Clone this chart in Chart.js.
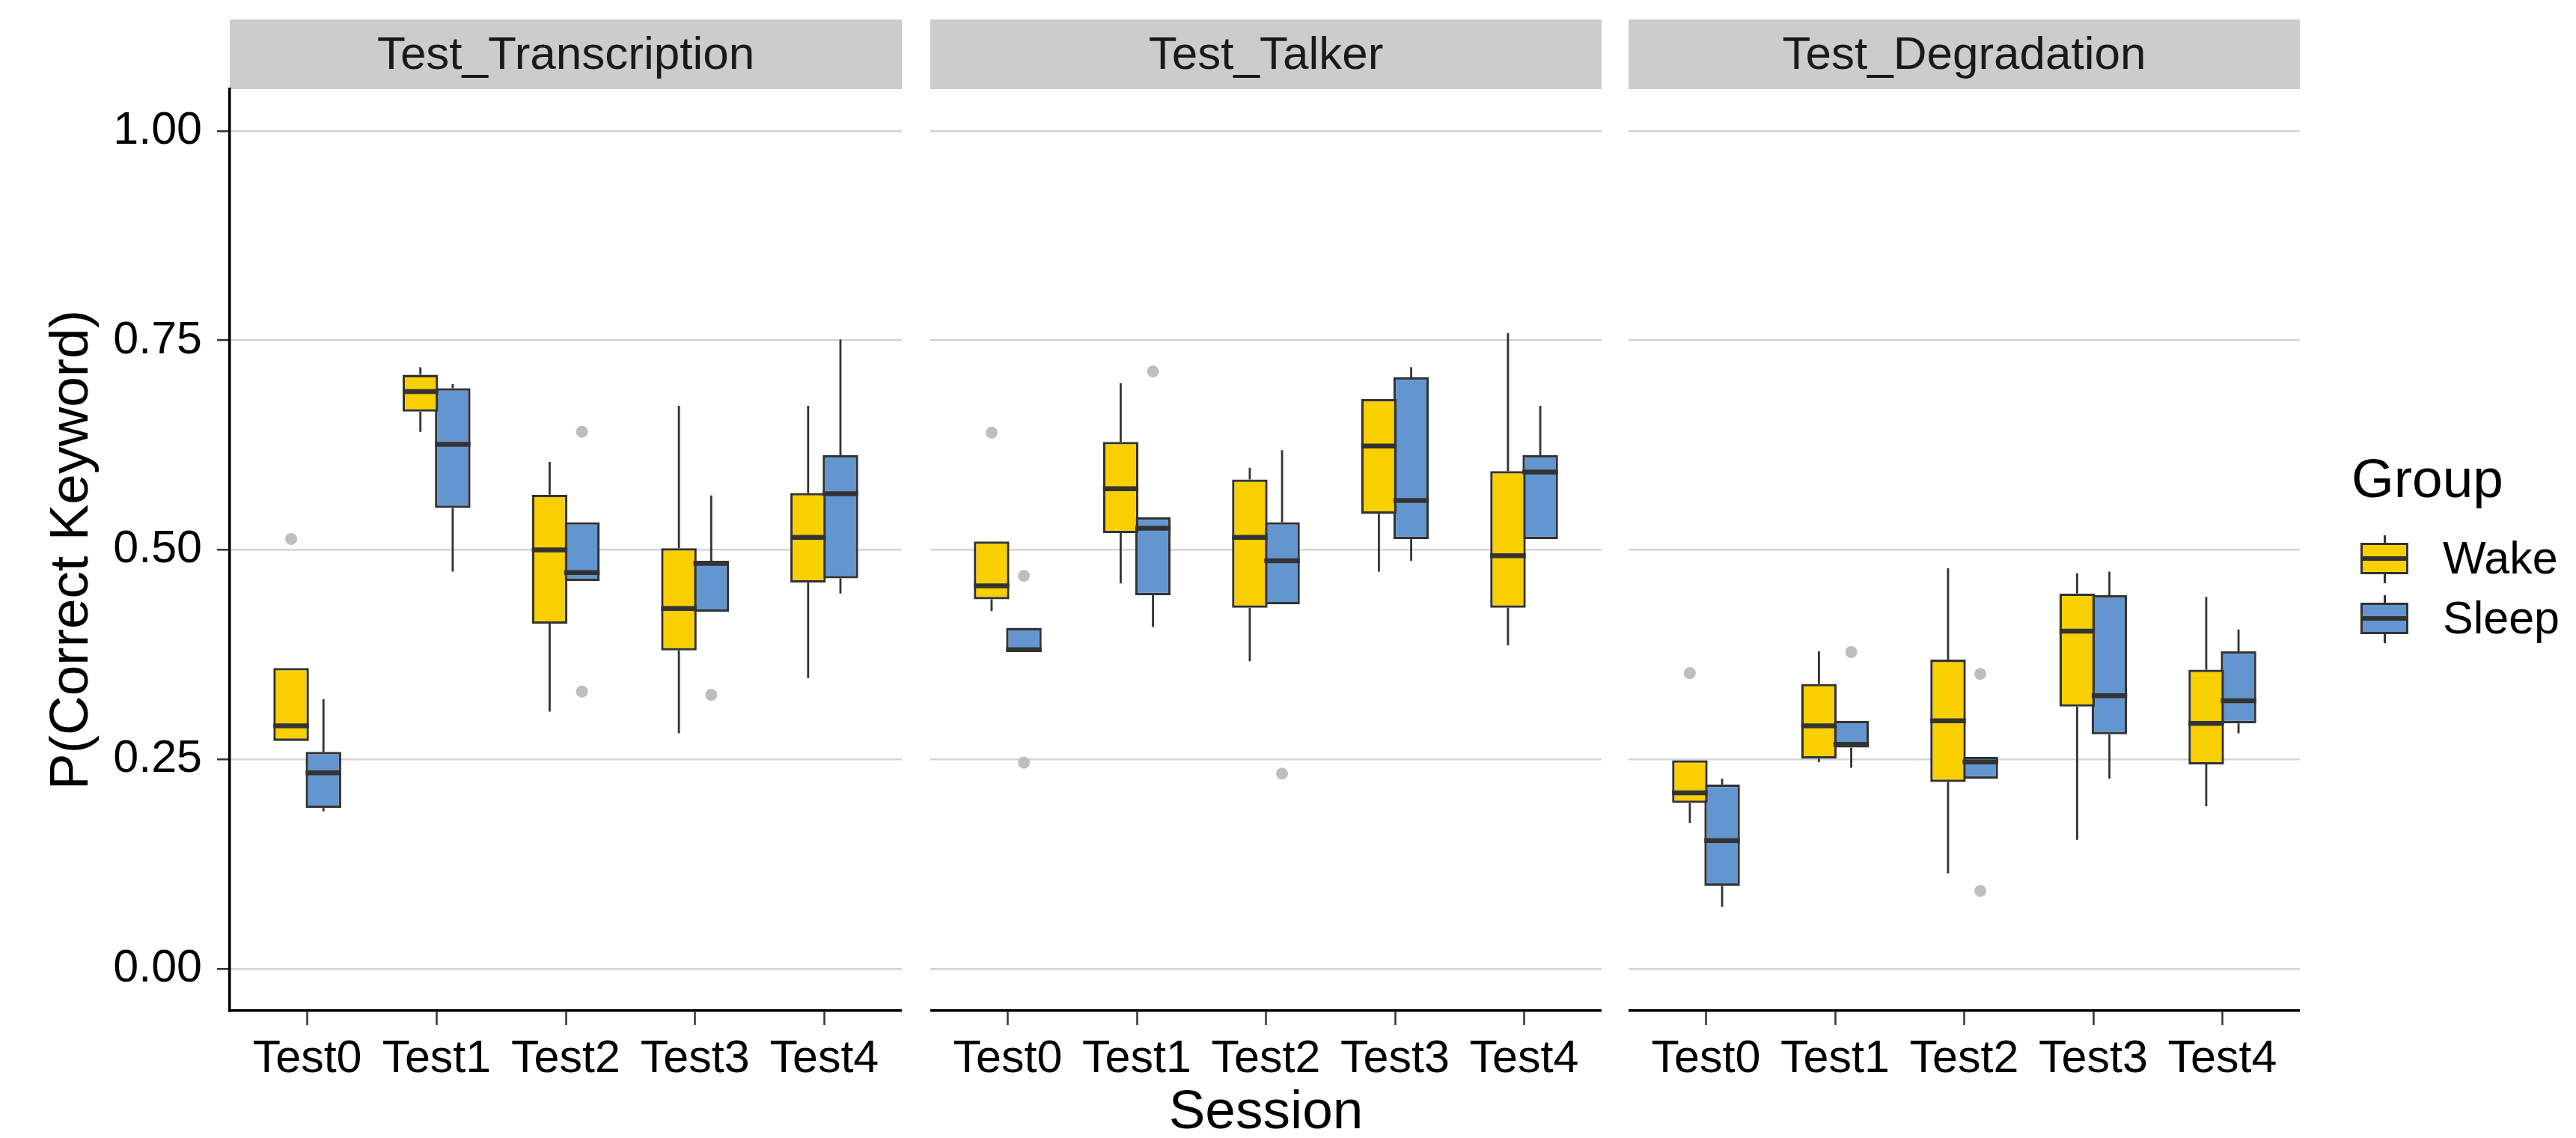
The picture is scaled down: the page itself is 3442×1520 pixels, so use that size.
<!DOCTYPE html>
<html>
<head>
<meta charset="utf-8">
<title>P(Correct Keyword) by Session</title>
<script src="https://cdn.jsdelivr.net/npm/chart.js@4.4.1/dist/chart.umd.min.js"></script>
<style>
  body { margin: 0; background: #fff; font-family: 'Liberation Sans', Arial, sans-serif; }
  #page { position: relative; width: 3442px; height: 1520px; overflow: hidden; }
  .panel { position: absolute; top: 0; height: 1520px; }
  .lg-title { position: absolute; left: 3142px; top: 602px; font-size: 73px; line-height: 73px; color: #000; }
  .lg-key { position: absolute; left: 3154px; width: 64px; height: 64px; }
  .lg-key .wh { position: absolute; left: 30.5px; top: 0; width: 3px; height: 64px; background: #333; }
  .lg-key .bx { position: absolute; left: 0; top: 10px; width: 64px; height: 42px; box-sizing: border-box; border: 3.3px solid #333; }
  .lg-key .md { position: absolute; left: 0; top: 28px; width: 64px; height: 6px; background: #333; }
  .lg-label { position: absolute; left: 3264px; font-size: 61px; line-height: 61px; color: #000; }
</style>
</head>
<body>
<div id="page">
  <div class="panel" style="left:0;width:1205px"><canvas id="panel0"></canvas></div>
  <div class="panel" style="left:1243px;width:897px"><canvas id="panel1"></canvas></div>
  <div class="panel" style="left:2176px;width:897px"><canvas id="panel2"></canvas></div>
  <div id="legend"></div>
</div>
<script>
const facets = ['Test_Transcription', 'Test_Talker', 'Test_Degradation'];
const sessions = ['Test0', 'Test1', 'Test2', 'Test3', 'Test4'];
const groups = ['Wake', 'Sleep'];
const groupColors = ['#FACF00', '#6396CE'];
const yTicks = [0, 0.25, 0.5, 0.75, 1];

// each row: [lower whisker, Q1, median, Q3, upper whisker]
const transcriptionWake = [
  [0.272, 0.272, 0.290, 0.359, 0.359],
  [0.641, 0.665, 0.689, 0.709, 0.718],
  [0.307, 0.412, 0.500, 0.566, 0.605],
  [0.281, 0.380, 0.430, 0.502, 0.672],
  [0.347, 0.461, 0.515, 0.568, 0.672]
];
const transcriptionSleep = [
  [0.188, 0.192, 0.234, 0.259, 0.322],
  [0.474, 0.550, 0.626, 0.693, 0.698],
  [0.463, 0.463, 0.473, 0.533, 0.533],
  [0.426, 0.426, 0.484, 0.487, 0.565],
  [0.448, 0.466, 0.567, 0.613, 0.751]
];
const talkerWake = [
  [0.427, 0.441, 0.457, 0.510, 0.510],
  [0.460, 0.520, 0.573, 0.629, 0.699],
  [0.367, 0.431, 0.515, 0.584, 0.598],
  [0.474, 0.543, 0.624, 0.680, 0.680],
  [0.386, 0.431, 0.493, 0.594, 0.759]
];
const talkerSleep = [
  [0.378, 0.378, 0.381, 0.407, 0.407],
  [0.408, 0.446, 0.526, 0.539, 0.539],
  [0.435, 0.435, 0.487, 0.533, 0.619],
  [0.487, 0.513, 0.559, 0.706, 0.718],
  [0.513, 0.513, 0.593, 0.613, 0.672]
];
const degradationWake = [
  [0.174, 0.198, 0.210, 0.249, 0.249],
  [0.247, 0.251, 0.290, 0.340, 0.379],
  [0.114, 0.223, 0.296, 0.369, 0.478],
  [0.154, 0.313, 0.403, 0.448, 0.472],
  [0.194, 0.244, 0.293, 0.357, 0.444]
];
const degradationSleep = [
  [0.074, 0.099, 0.153, 0.220, 0.227],
  [0.240, 0.264, 0.268, 0.296, 0.296],
  [0.227, 0.227, 0.247, 0.253, 0.253],
  [0.227, 0.280, 0.326, 0.446, 0.474],
  [0.281, 0.293, 0.320, 0.379, 0.405]
];

// outlying points per session
const transcriptionWakeOut = [[0.513], [], [], [], []];
const transcriptionSleepOut = [[], [], [0.641, 0.331], [0.327], []];
const talkerWakeOut = [[0.640], [], [], [], []];
const talkerSleepOut = [[0.469, 0.246], [0.713], [0.233], [], []];
const degradationWakeOut = [[0.353], [], [], [], []];
const degradationSleepOut = [[], [0.378], [0.352, 0.093], [], []];

const facetStats = [
  [transcriptionWake, transcriptionSleep],
  [talkerWake, talkerSleep],
  [degradationWake, degradationSleep]
];
const facetOutliers = [
  [transcriptionWakeOut, transcriptionSleepOut],
  [talkerWakeOut, talkerSleepOut],
  [degradationWakeOut, degradationSleepOut]
];

Chart.defaults.font.family = "'Liberation Sans', Arial, sans-serif";

const lineColor = '#333333';

// strip background, whiskers, medians and outliers
const boxplotExtras = {
  id: 'boxplotExtras',
  beforeDraw(chart) {
    const { ctx, chartArea } = chart;
    const tb = chart.titleBlock;
    ctx.save();
    ctx.fillStyle = '#CCCCCC';
    ctx.fillRect(chartArea.left, tb.top, chartArea.right - chartArea.left, tb.height);
    ctx.restore();
  },
  beforeDatasetsDraw(chart) {
    const { ctx } = chart;
    const y = chart.scales.y;
    ctx.save();
    ctx.strokeStyle = lineColor;
    ctx.lineWidth = 2.8;
    chart.data.datasets.forEach((ds, d) => {
      chart.getDatasetMeta(d).data.forEach((bar, i) => {
        const s = ds.stats[i];
        ctx.beginPath();
        ctx.moveTo(bar.x, y.getPixelForValue(s[4]));
        ctx.lineTo(bar.x, y.getPixelForValue(s[3]));
        ctx.moveTo(bar.x, y.getPixelForValue(s[1]));
        ctx.lineTo(bar.x, y.getPixelForValue(s[0]));
        ctx.stroke();
      });
    });
    ctx.restore();
  },
  afterDatasetsDraw(chart) {
    const { ctx } = chart;
    const y = chart.scales.y;
    ctx.save();
    chart.data.datasets.forEach((ds, d) => {
      chart.getDatasetMeta(d).data.forEach((bar, i) => {
        const s = ds.stats[i];
        const my = y.getPixelForValue(s[2]);
        ctx.strokeStyle = lineColor;
        ctx.lineWidth = 6.5;
        ctx.beginPath();
        ctx.moveTo(bar.x - bar.width / 2, my);
        ctx.lineTo(bar.x + bar.width / 2, my);
        ctx.stroke();
        ctx.fillStyle = '#BEBEBE';
        ds.outliers[i].forEach(v => {
          ctx.beginPath();
          ctx.arc(bar.x, y.getPixelForValue(v), 8, 0, Math.PI * 2);
          ctx.fill();
        });
      });
    });
    ctx.restore();
  }
};

facets.forEach((facet, p) => {
  const ctx = document.getElementById('panel' + p).getContext('2d');
  const datasets = groups.map((g, gi) => ({
    label: g,
    data: sessions.map((s, i) => ({ x: i, y: [facetStats[p][gi][i][1], facetStats[p][gi][i][3]] })),
    stats: facetStats[p][gi],
    outliers: facetOutliers[p][gi],
    backgroundColor: groupColors[gi],
    borderColor: lineColor,
    borderWidth: 3.3,
    borderSkipped: false,
    categoryPercentage: 0.5,
    barPercentage: 1.1
  }));

  new Chart(ctx, {
    type: 'bar',
    data: { datasets },
    plugins: [boxplotExtras],
    options: {
      responsive: true,
      maintainAspectRatio: false,
      animation: false,
      layout: { padding: { top: 26, left: 0, right: 0, bottom: 0 } },
      plugins: {
        legend: { display: false },
        tooltip: { enabled: false },
        title: {
          display: true,
          text: facet,
          fullSize: false,
          color: '#1A1A1A',
          font: { size: 62, weight: 'normal' },
          padding: { top: 12, bottom: 6.6 }
        }
      },
      scales: {
        x: {
          type: 'linear',
          min: -0.6,
          max: 4.6,
          bounds: 'data',
          offset: false,
          afterBuildTicks: scale => { scale.ticks = sessions.map((_, i) => ({ value: i })); },
          afterFit: scale => { scale.height = 170; },
          ticks: {
            callback: v => sessions[v],
            color: '#000',
            font: { size: 61 },
            padding: 10,
            maxRotation: 0,
            autoSkip: false
          },
          grid: { offset: false, drawOnChartArea: false, drawTicks: true, tickLength: 19, tickColor: lineColor, tickWidth: 2.5 },
          border: { display: true, color: '#000', width: 3.5 },
          title: {
            display: p === 1,
            text: 'Session',
            color: '#000',
            font: { size: 73, lineHeight: 0.9 },
            padding: { top: 0, bottom: 0 }
          }
        },
        y: {
          min: -0.05,
          max: 1.05,
          bounds: 'data',
          afterBuildTicks: scale => { scale.ticks = yTicks.map(v => ({ value: v })); },
          afterFit: scale => { scale.width = p === 0 ? 307 : 0; },
          ticks: {
            display: p === 0,
            callback: v => v.toFixed(2),
            color: '#000',
            font: { size: 61 },
            padding: 20
          },
          grid: { color: '#D4D4D4', lineWidth: 2.5, drawTicks: p === 0, tickLength: 17, tickColor: lineColor, tickWidth: 2.5 },
          border: { display: p === 0, color: '#000', width: 3.5 },
          title: {
            display: p === 0,
            text: 'P(Correct Keyword)',
            color: '#000',
            font: { size: 73 },
            padding: { top: 53, bottom: 0 }
          }
        }
      }
    }
  });
});

// legend
const legend = document.getElementById('legend');
const lgTitle = document.createElement('div');
lgTitle.className = 'lg-title';
lgTitle.textContent = 'Group';
legend.appendChild(lgTitle);
groups.forEach((g, gi) => {
  const key = document.createElement('div');
  key.className = 'lg-key';
  key.style.top = (715 + gi * 80) + 'px';
  key.innerHTML = '<div class="wh"></div><div class="bx" style="background:' + groupColors[gi] + '"></div><div class="md"></div>';
  legend.appendChild(key);
  const label = document.createElement('div');
  label.className = 'lg-label';
  label.style.top = (715 + gi * 80) + 'px';
  label.textContent = g;
  legend.appendChild(label);
});
</script>
</body>
</html>
